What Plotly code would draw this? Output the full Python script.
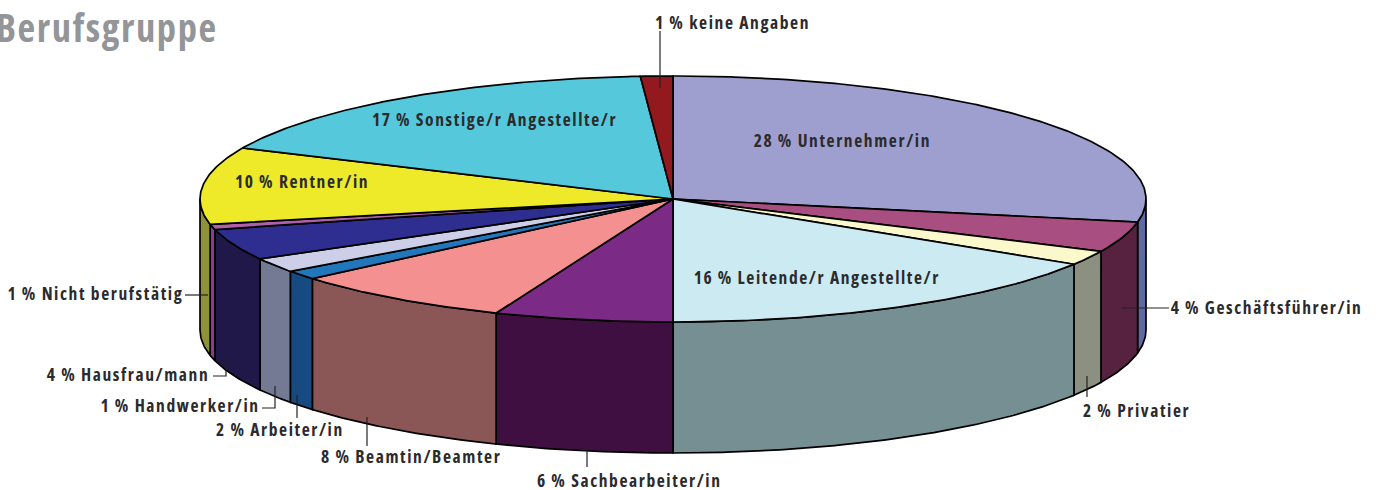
import math
import plotly.graph_objects as go

# ---- data (percent shares as drawn, clockwise from 12 o'clock) ----
categories = ["Unternehmer/in", "Geschäftsführer/in", "Privatier", "Leitende/r Angestellte/r",
              "Sachbearbeiter/in", "Beamtin/Beamter", "Arbeiter/in", "Handwerker/in",
              "Hausfrau/mann", "Nicht berufstätig", "Rentner/in", "Sonstige/r Angestellte/r",
              "keine Angaben"]
values = [28, 4, 1.9, 16.1, 6.1, 7.7, 1.2, 1.9, 4.1, 0.7, 10.1, 17.1, 1.1]
top_colors = ["#9E9FCF", "#A84E80", "#FBF8CC", "#CCEAF2", "#7B2A85", "#F59090", "#2277BB",
              "#CDCFE8", "#2E2E90", "#B060A8", "#EEEA2A", "#55C8DC", "#921A1E"]
wall_colors = ["#5F6AA0", "#57223F", "#8C9080", "#768F93", "#3E0F40", "#8B5656", "#174A80",
               "#757A94", "#1F1848", "#8E3A90", "#8F9238", "#3A8C9A", "#661214"]

# ---- labels: text, left x, right x, centre y ----
labels = [("1\u2009% keine Angaben", 655, 809, 22), ("28\u2009% Unternehmer/in", 756, 929, 140),
          ("17\u2009% Sonstige/r Angestellte/r", 374, 615, 119), ("10\u2009% Rentner/in", 237, 367, 181),
          ("16\u2009% Leitende/r Angestellte/r", 697, 937, 277), ("4\u2009% Geschäftsführer/in", 1172, 1361, 307),
          ("2\u2009% Privatier", 1083, 1190, 410), ("6\u2009% Sachbearbeiter/in", 538, 721, 480),
          ("8\u2009% Beamtin/Beamter", 323, 500, 456), ("2\u2009% Arbeiter/in", 218, 341, 429),
          ("1\u2009% Handwerker/in", 102, 257, 405), ("4\u2009% Hausfrau/mann", 48, 207, 374),
          ("1\u2009% Nicht berufstätig", 9, 182, 293)]
leaders = [([660, 660], [31, 88]), ([185, 208], [295, 295]),
           ([213, 226, 226], [376, 376, 357]), ([262, 275, 275], [408, 408, 386]),
           ([297, 297], [395, 418]), ([367, 367], [417, 446]), ([587, 587], [447, 467]),
           ([1087, 1087], [376, 397]), ([1122, 1169], [308, 308])]

# ---- projection of the disc ----
CX, CY, RX, RY, DEPTH = 673, 199, 473, 123, 131
FONT = "Open Sans, sans-serif"
INK = "#2B2A2C"


def arc(a0, a1, dy=0.0):
    n = max(2, int(abs(a1 - a0) / 0.5) + 2)
    xs, ys = [], []
    for i in range(n):
        t = math.radians(a0 + (a1 - a0) * i / (n - 1))
        xs.append(CX + RX * math.sin(t))
        ys.append(CY - RY * math.cos(t) + dy)
    return xs, ys


fig = go.Figure()
total = sum(values)

spans, acc = [], 0.0
for v in values:
    spans.append((acc / total * 360, (acc + v) / total * 360))
    acc += v

# front walls: only the part of each slice between 3 and 9 o'clock shows
for (a0, a1), name, col in zip(spans, categories, wall_colors):
    lo, hi = max(a0, 90), min(a1, 270)
    if hi <= lo:
        continue
    tx, ty = arc(lo, hi)
    bx, by = arc(hi, lo, DEPTH)
    fig.add_trace(go.Scatter(x=tx + bx + tx[:1], y=ty + by + ty[:1], mode="lines", fill="toself",
                             fillcolor=col, line=dict(color="#000", width=1.7),
                             name=name, hoverinfo="name", showlegend=False))

# top face
for (a0, a1), name, col, v in zip(spans, categories, top_colors, values):
    ax, ay = arc(a0, a1)
    fig.add_trace(go.Scatter(x=[CX] + ax + [CX], y=[CY] + ay + [CY], mode="lines", fill="toself",
                             fillcolor=col, line=dict(color="#000", width=1.7),
                             name=name, hoverinfo="name", showlegend=False))

# leader lines
for lx, ly in leaders:
    fig.add_trace(go.Scatter(x=lx, y=ly, mode="lines", line=dict(color="#222", width=1.2),
                             hoverinfo="skip", showlegend=False))

annotations = [dict(x=(x0 + x1) / 2, y=y, text=t, xref="x", yref="y", xanchor="center", yanchor="middle",
                    showarrow=False, font=dict(family=FONT, size=17.5, color=INK, weight="bold"))
               for t, x0, x1, y in labels]
annotations.append(dict(x=106.5, y=27, text="Berufsgruppe", xref="x", yref="y", xanchor="center",
                        yanchor="middle", showarrow=False,
                        font=dict(family=FONT, size=38.5, color="#939598", weight="bold")))

fig.update_layout(width=1381, height=490, margin=dict(l=0, r=0, t=0, b=0),
                  paper_bgcolor="white", plot_bgcolor="white", showlegend=False,
                  xaxis=dict(range=[0, 1381], visible=False, fixedrange=True),
                  yaxis=dict(range=[490, 0], visible=False, fixedrange=True),
                  annotations=annotations)

post = """
document.body.style.margin='0';
document.documentElement.style.overflow='hidden';
var s=document.createElement('style');
s.textContent='.annotation-text{font-stretch:78%;letter-spacing:1.6px}';
document.head.appendChild(s);
"""
fig.write_html("out.html", post_script=post, config=dict(displayModeBar=False))
